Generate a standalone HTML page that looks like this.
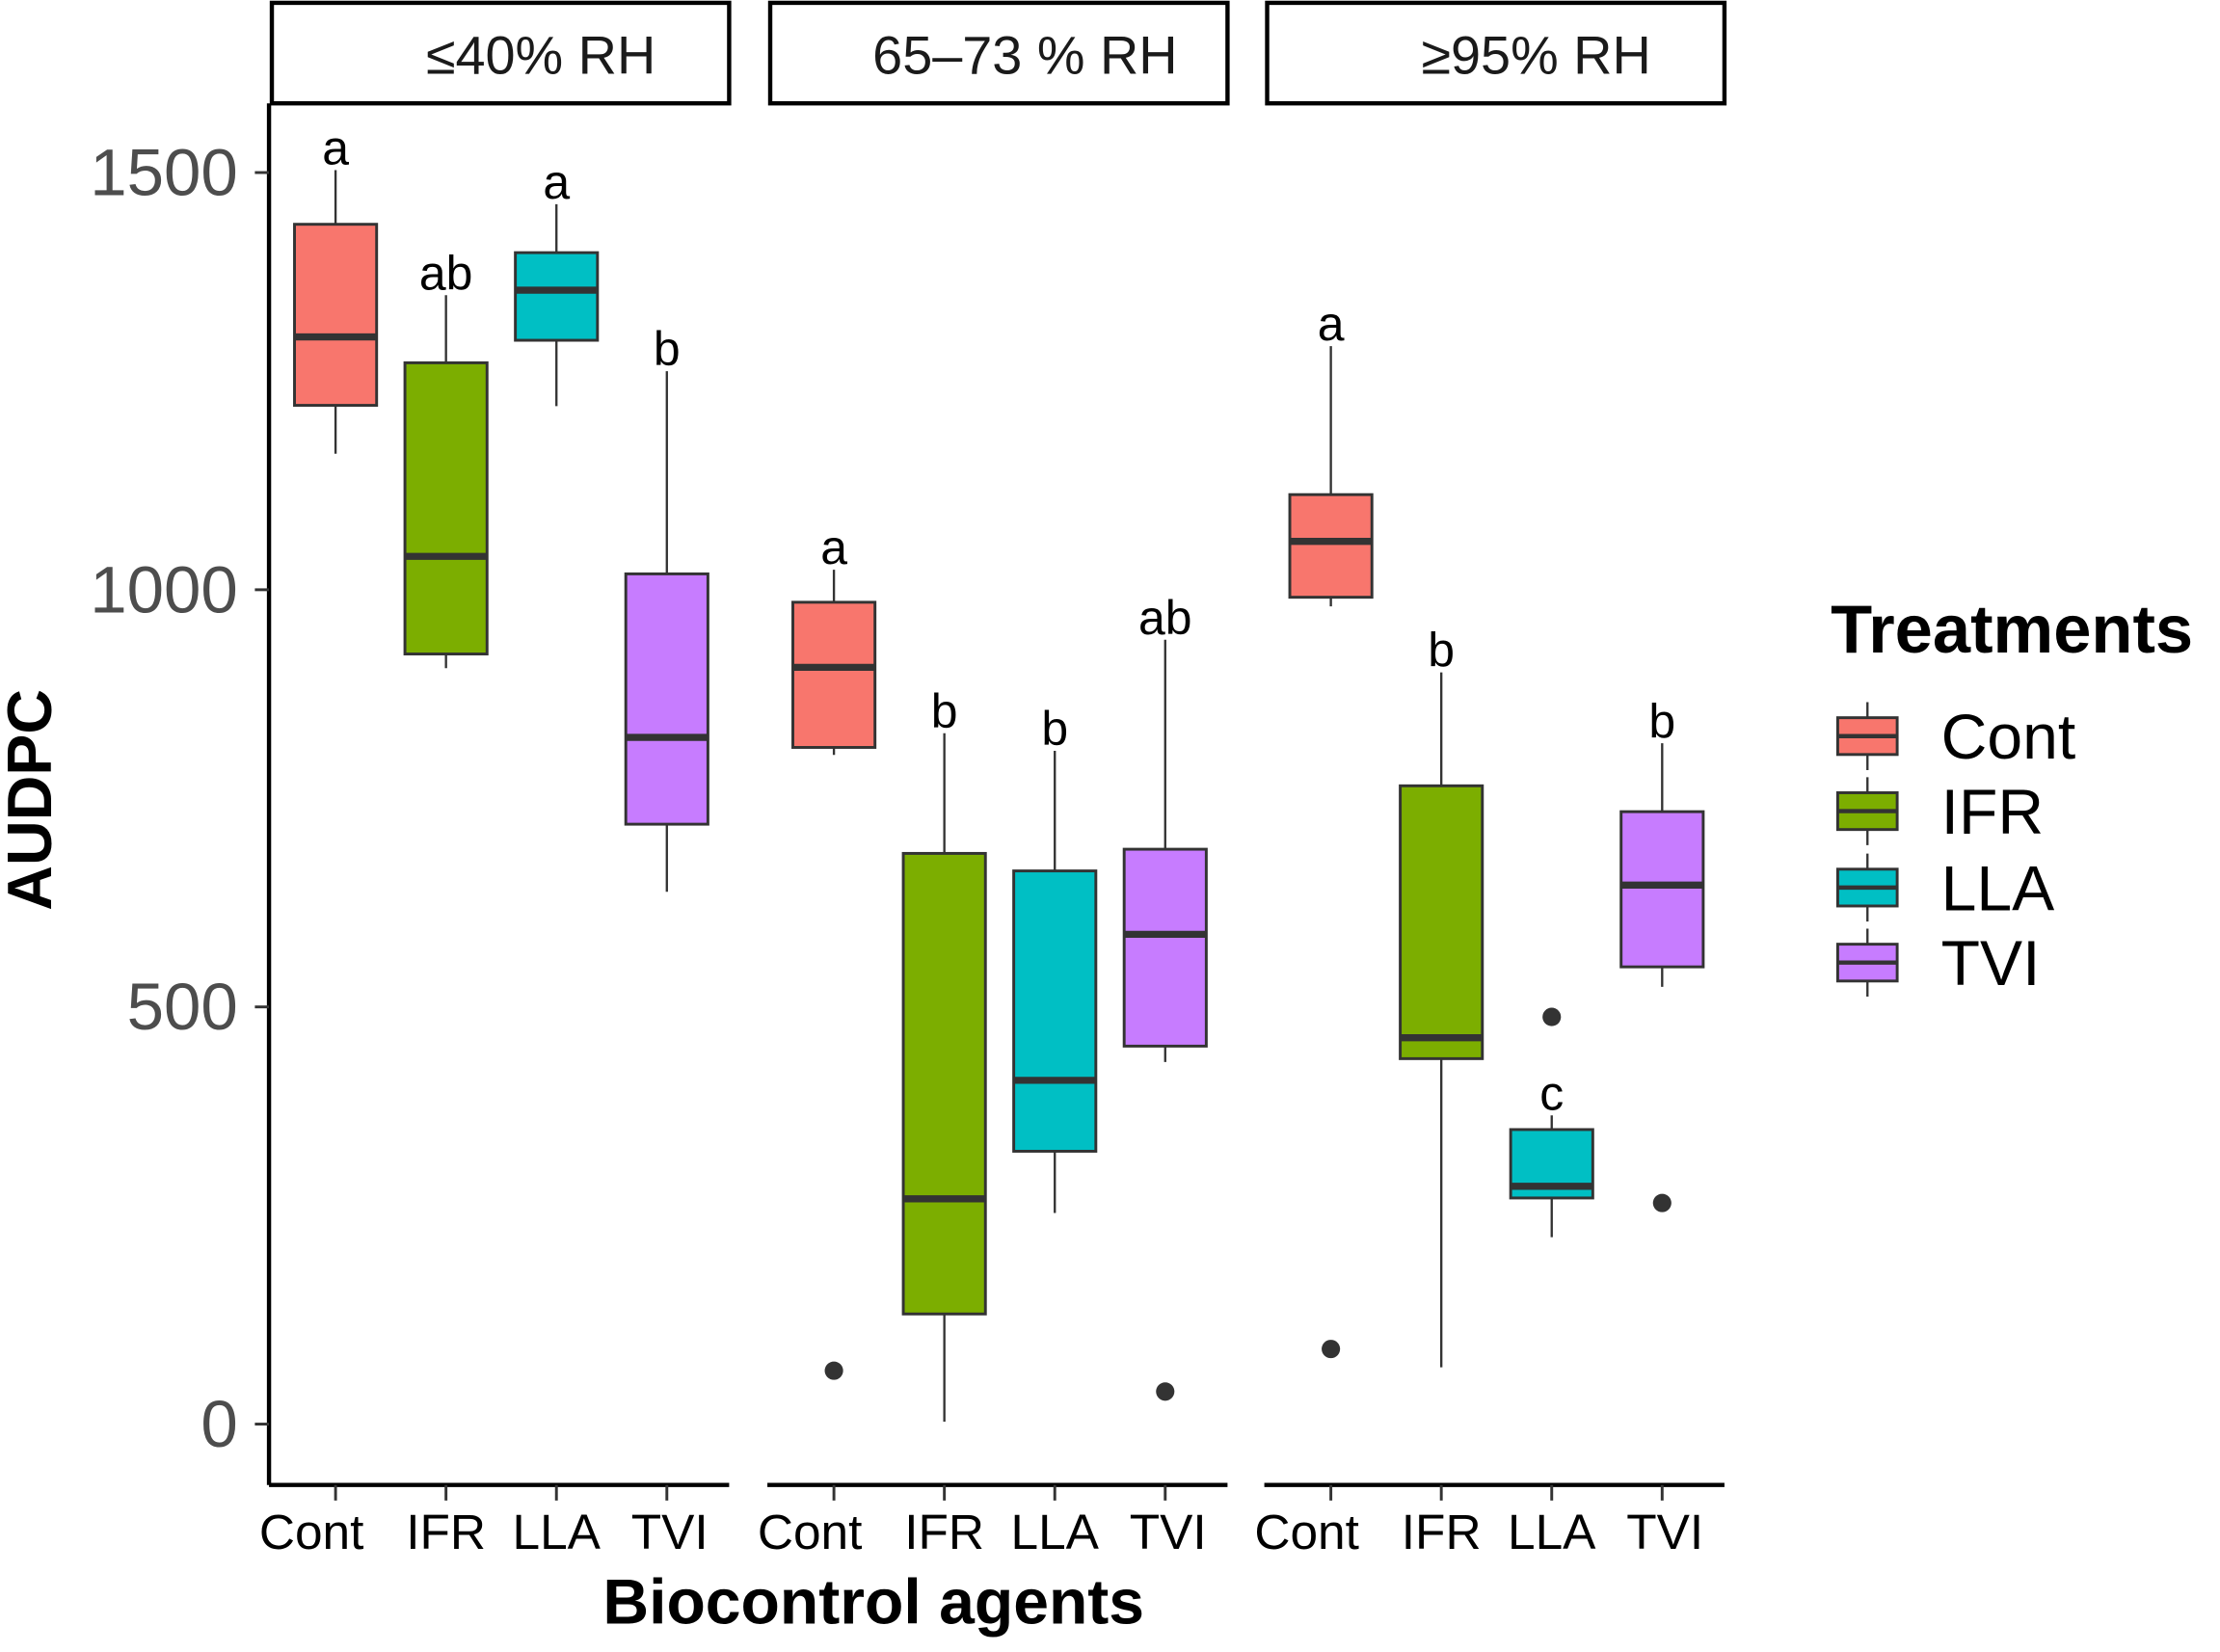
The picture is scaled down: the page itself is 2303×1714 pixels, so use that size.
<!DOCTYPE html>
<html><head><meta charset="utf-8"><style>html,body{margin:0;padding:0;background:#fff}svg{display:block}</style></head>
<body>
<svg id="chart" width="2303" height="1714" viewBox="0 0 1568 1167" xmlns="http://www.w3.org/2000/svg" font-family="'Liberation Sans', sans-serif"></svg>
<script>
const panels = ["≤40% RH", "65–73 % RH", "≥95% RH"];
const categories = ["Cont", "IFR", "LLA", "TVI"];
const colors = ["#F8766D", "#7CAE00", "#00BFC4", "#C77CFF"];
// [low, q1, median, q3, high] per panel per category
const stats = [
  [[1163,1221,1303,1438,1503],[906,923,1040,1272,1353],[1220,1299,1359,1404,1462],[638,719,823,1019,1262]],
  [[802,811,907,985,1024],[3,132,270,684,828],[253,327,412,663,807],[434,453,587,689,940]],
  [[980,991,1058,1114,1292],[68,438,463,765,901],[224,271,285,353,370],[524,548,646,734,816]]
];
const outliers = [
  [[],[],[],[]],
  [[64],[],[],[39]],
  [[90],[],[488],[265]]
];
const letters = [["a","ab","a","b"],["a","b","b","ab"],["a","b","c","b"]];
const yTicks = [0,500,1000,1500];

const svg = document.getElementById('chart');
const NS = 'http://www.w3.org/2000/svg';
function mk(tag, attrs, parent){const e=document.createElementNS(NS,tag);for(const k in attrs)e.setAttribute(k,attrs[k]);(parent||svg).appendChild(e);return e;}
function y(v){return 1006 - v*0.5894;}
const panelLeft=[190,542,893], panelWidth=325;
function x(p,c){return panelLeft[p]+47+c*78;}
const dark="#333333";

const ya=mk('line',{x1:190,y1:73,x2:190,y2:1049,stroke:'#000','stroke-width':3});


yTicks.forEach(t=>{
  const tk=mk('line',{x1:180,x2:190,y1:y(t),y2:y(t),stroke:'#333','stroke-width':2});
  
  
  const tl=mk('text',{x:168,y:y(t)+16,'text-anchor':'end','font-size':47,fill:'#4d4d4d'});
  tl.textContent=t;
  
  
});

panels.forEach((pn,p)=>{
  const L=panelLeft[p];
  const strip=mk('rect',{x:L+2,y:2,width:panelWidth-2,height:71,fill:'#fff',stroke:'#000','stroke-width':3});
  
  
  const cx=[382,724,1085][p];
  const st=mk('text',{x:cx,y:52,'text-anchor':'middle','font-size':38,fill:'#1a1a1a'});
  st.textContent=pn;
  
  
  const xa=mk('line',{x1:L,x2:L+panelWidth,y1:1049,y2:1049,stroke:'#000','stroke-width':3});
  
  
  categories.forEach((c,i)=>{
    const X=x(p,i), s=stats[p][i];
    const tk=mk('line',{x1:X,x2:X,y1:1049,y2:1060,stroke:'#333','stroke-width':2});
    
    
    const tl=mk('text',{x:X-(i===0?17:(i===3?-2:0)),y:1094,'text-anchor':'middle','font-size':35,fill:'#000'});
    tl.textContent=c;
    
    
    const g=mk('g',{});
    
    
    mk('line',{x1:X,x2:X,y1:y(s[4]),y2:y(s[0]),stroke:dark,'stroke-width':1.6},g);
    mk('rect',{x:X-29,y:y(s[3]),width:58,height:y(s[1])-y(s[3]),fill:colors[i],stroke:dark,'stroke-width':2},g);
    mk('line',{x1:X-29,x2:X+29,y1:y(s[2]),y2:y(s[2]),stroke:dark,'stroke-width':5},g);
    outliers[p][i].forEach(o=>{
      const pt=mk('circle',{cx:X,cy:y(o),r:6.5,fill:dark});
      
      
    });
    const lt=mk('text',{x:X,y:y(s[4])-4,'text-anchor':'middle','font-size':34,fill:'#000'});
    lt.textContent=letters[p][i];
    
    
  });
});

const xt=mk('text',{x:617,y:1147,'text-anchor':'middle','font-size':45,'font-weight':'bold',fill:'#000'});
xt.textContent='Biocontrol agents';


const yt=mk('text',{x:0,y:0,'text-anchor':'middle','font-size':44,'font-weight':'bold',fill:'#000',transform:'translate(36,565) rotate(-90)'});
yt.textContent='AUDPC';



const lg=mk('text',{x:1293,y:461,'font-size':48,'font-weight':'bold',fill:'#000'});
lg.textContent='Treatments';


const legY=[520,573,627,680];
categories.forEach((c,i)=>{
  const g=mk('g',{});
  
  
  const cy=legY[i];
  mk('line',{x1:1319,x2:1319,y1:cy-24,y2:cy+24,stroke:dark,'stroke-width':1.6},g);
  mk('rect',{x:1298,y:cy-13,width:42,height:26,fill:colors[i],stroke:dark,'stroke-width':2},g);
  mk('line',{x1:1298,x2:1340,y1:cy,y2:cy,stroke:dark,'stroke-width':3},g);
  const t=mk('text',{x:1371,y:cy+16,'font-size':45,fill:'#000'},g);
  t.textContent=c;
});
</script>
</body></html>
